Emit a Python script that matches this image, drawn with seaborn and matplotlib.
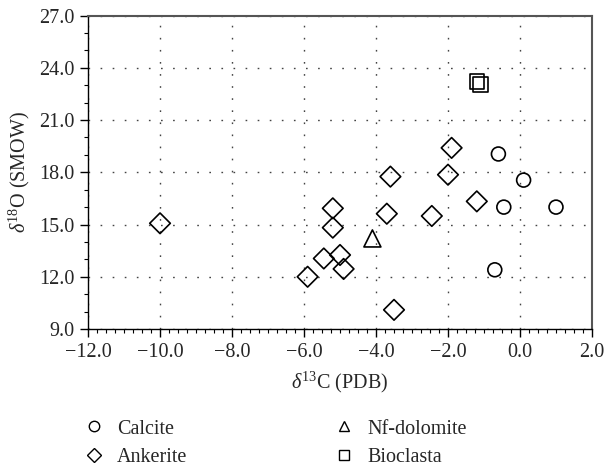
import matplotlib
matplotlib.use("Agg")
import matplotlib.pyplot as plt
from matplotlib.lines import Line2D
from matplotlib.ticker import MultipleLocator, FuncFormatter
import seaborn as sns
import pandas as pd

calcite_x = [-0.6, 0.1, -0.45, 1.0, -0.7]
calcite_y = [19.05, 17.55, 16.0, 16.0, 12.4]
ankerite_x = [-10.0, -1.9, -2.0, -3.6, -1.2, -5.2, -3.7, -2.45, -5.2, -5.9, -5.45, -5.0, -4.9, -3.5]
ankerite_y = [15.07, 19.4, 17.86, 17.75, 16.33, 15.93, 15.62, 15.49, 14.82, 12.0, 13.05, 13.25, 12.45, 10.1]
dolomite_x = [-4.1]
dolomite_y = [14.2]
bioclasta_x = [-1.2, -1.1]
bioclasta_y = [23.2, 23.05]
types = ["Calcite", "Ankerite", "Nf-dolomite", "Bioclasta"]

df = pd.concat([
    pd.DataFrame({"x": calcite_x, "y": calcite_y, "Type": "Calcite"}),
    pd.DataFrame({"x": ankerite_x, "y": ankerite_y, "Type": "Ankerite"}),
    pd.DataFrame({"x": dolomite_x, "y": dolomite_y, "Type": "Nf-dolomite"}),
    pd.DataFrame({"x": bioclasta_x, "y": bioclasta_y, "Type": "Bioclasta"}),
], ignore_index=True)

sns.set_style("white")
plt.rcParams["font.family"] = ["Liberation Serif", "DejaVu Serif"]
plt.rcParams["mathtext.fontset"] = "custom"
plt.rcParams["mathtext.rm"] = "Liberation Serif"
plt.rcParams["mathtext.it"] = "Liberation Serif:italic"
plt.rcParams["axes.unicode_minus"] = True

fig = plt.figure(figsize=(6.05, 4.73), dpi=100)
ax = fig.add_axes([0.1455, 0.3044, 0.833, 0.6628])

markers = {"Calcite": "o", "Ankerite": "D", "Nf-dolomite": "^", "Bioclasta": "s"}
sizes = {"Calcite": 100, "Ankerite": 110, "Nf-dolomite": 150, "Bioclasta": 110}
for t in types:
    sub = df[df["Type"] == t]
    sns.scatterplot(data=sub, x="x", y="y", marker=markers[t], s=sizes[t],
                    facecolor="none", edgecolor="black", linewidth=1.2,
                    ax=ax, legend=False, zorder=3)

ax.set_xlim(-12, 2)
ax.set_ylim(9, 27)
ax.xaxis.set_major_locator(MultipleLocator(2))
ax.xaxis.set_minor_locator(MultipleLocator(0.25))
ax.yaxis.set_major_locator(MultipleLocator(3))
ax.yaxis.set_minor_locator(MultipleLocator(1))
fmt = FuncFormatter(lambda v, p: ("%.1f" % v).replace("-", "\u2212"))
ax.xaxis.set_major_formatter(fmt)
ax.yaxis.set_major_formatter(fmt)
ax.tick_params(axis="both", which="major", direction="out", length=6, width=1,
               labelsize=14.5, color="black", bottom=True, left=True, pad=4)
ax.tick_params(axis="both", which="minor", direction="out", length=3, width=0.8,
               color="black", bottom=True, left=True)
ax.grid(True, which="major", linestyle=(0, (1.2, 7.5)), color="#444444", linewidth=1.0)

for s in ["left", "bottom"]:
    ax.spines[s].set_color("black")
    ax.spines[s].set_linewidth(1.0)
for s in ["top", "right"]:
    ax.spines[s].set_color("#555555")
    ax.spines[s].set_linewidth(1.5)

ax.set_xlabel(r"$\mathit{\delta}^{13}$C (PDB)", fontsize=14.5, labelpad=6)
ax.set_ylabel(r"$\mathit{\delta}^{18}$O (SMOW)", fontsize=14.5, labelpad=5)

handles = [Line2D([], [], marker=markers[t], linestyle="none", markerfacecolor="none",
                  markeredgecolor="black", markersize=7.5, markeredgewidth=1.0, label=t)
           for t in types]
leg = fig.legend(handles=handles, labels=types,
                 ncol=2, loc="lower left", bbox_to_anchor=(0.100, -0.025), frameon=False,
                 fontsize=14.5, columnspacing=7.05, handletextpad=0.4, labelspacing=0.45,
                 handlelength=1.5)

fig.savefig("out.png", dpi=100)
